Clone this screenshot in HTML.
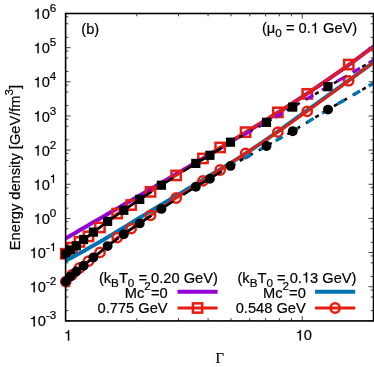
<!DOCTYPE html>
<html><head><meta charset="utf-8"><title>plot</title>
<style>
html,body{margin:0;padding:0;background:#fff;}
body{width:374px;height:367px;overflow:hidden;}
svg{display:block;will-change:transform;}
text{font-family:"Liberation Sans",sans-serif;font-size:14.67px;fill:#000;stroke:#000;stroke-width:0.2px;}
.one{fill:none;stroke:none;}
.ser{font-family:"Liberation Serif",serif;}
</style></head><body>
<svg width="374" height="367" viewBox="0 0 374 367">
<rect x="0" y="0" width="374" height="367" fill="#fff"/>
<defs><clipPath id="cp"><rect x="65.6" y="13.5" width="307.9" height="307.4"/></clipPath><clipPath id="c232"><rect x="232" y="0" width="200" height="400"/></clipPath><clipPath id="c243"><rect x="243" y="0" width="200" height="400"/></clipPath><clipPath id="c235"><rect x="235" y="0" width="200" height="400"/></clipPath></defs>

<path d="M65.6,320.90h5 M373.5,320.90h-5 M65.6,310.62h2.8 M373.5,310.62h-2.8 M65.6,297.03h2.8 M373.5,297.03h-2.8 M65.6,290.05h2.8 M373.5,290.05h-2.8 M65.6,286.74h5 M373.5,286.74h-5 M65.6,276.46h2.8 M373.5,276.46h-2.8 M65.6,262.87h2.8 M373.5,262.87h-2.8 M65.6,255.90h2.8 M373.5,255.90h-2.8 M65.6,252.59h5 M373.5,252.59h-5 M65.6,242.31h2.8 M373.5,242.31h-2.8 M65.6,228.72h2.8 M373.5,228.72h-2.8 M65.6,221.74h2.8 M373.5,221.74h-2.8 M65.6,218.43h5 M373.5,218.43h-5 M65.6,208.15h2.8 M373.5,208.15h-2.8 M65.6,194.56h2.8 M373.5,194.56h-2.8 M65.6,187.59h2.8 M373.5,187.59h-2.8 M65.6,184.28h5 M373.5,184.28h-5 M65.6,174.00h2.8 M373.5,174.00h-2.8 M65.6,160.40h2.8 M373.5,160.40h-2.8 M65.6,153.43h2.8 M373.5,153.43h-2.8 M65.6,150.12h5 M373.5,150.12h-5 M65.6,139.84h2.8 M373.5,139.84h-2.8 M65.6,126.25h2.8 M373.5,126.25h-2.8 M65.6,119.28h2.8 M373.5,119.28h-2.8 M65.6,115.97h5 M373.5,115.97h-5 M65.6,105.68h2.8 M373.5,105.68h-2.8 M65.6,92.09h2.8 M373.5,92.09h-2.8 M65.6,85.12h2.8 M373.5,85.12h-2.8 M65.6,81.81h5 M373.5,81.81h-5 M65.6,71.53h2.8 M373.5,71.53h-2.8 M65.6,57.94h2.8 M373.5,57.94h-2.8 M65.6,50.97h2.8 M373.5,50.97h-2.8 M65.6,47.66h5 M373.5,47.66h-5 M65.6,37.37h2.8 M373.5,37.37h-2.8 M65.6,23.78h2.8 M373.5,23.78h-2.8 M65.6,16.81h2.8 M373.5,16.81h-2.8 M65.6,13.50h5 M373.5,13.50h-5 M65.60,320.9v-5 M65.60,13.5v5 M302.26,320.9v-5 M302.26,13.5v5 M136.84,320.9v-2.8 M136.84,13.5v2.8 M178.51,320.9v-2.8 M178.51,13.5v2.8 M208.08,320.9v-2.8 M208.08,13.5v2.8 M231.02,320.9v-2.8 M231.02,13.5v2.8 M249.76,320.9v-2.8 M249.76,13.5v2.8 M265.60,320.9v-2.8 M265.60,13.5v2.8 M279.32,320.9v-2.8 M279.32,13.5v2.8 M291.43,320.9v-2.8 M291.43,13.5v2.8 M373.50,320.9v-2.8 M373.50,13.5v2.8" stroke="#000" stroke-width="0.75" fill="none"/>
<g clip-path="url(#cp)">
<polyline points="60.0,241.6 64.0,239.3 68.0,237.0 72.0,234.7 76.0,232.4 80.0,230.1 84.0,227.7 88.0,225.4 92.0,223.1 96.0,220.8 100.0,218.5 104.0,216.2 108.0,213.8 112.0,211.5 116.0,209.2 120.0,206.9 124.0,204.5 128.0,202.2 132.0,199.9 136.0,197.6 140.0,195.2 144.0,192.9 148.0,190.6 152.0,188.3 156.0,185.9 160.0,183.6 164.0,181.2 168.0,178.9 172.0,176.6 176.0,174.2 180.0,171.9 184.0,169.5 188.0,167.2 192.0,164.8 196.0,162.4 200.0,160.1 204.0,157.7 208.0,155.3 212.0,152.9 216.0,150.6 220.0,148.2 224.0,145.8 228.0,143.4 232.0,141.0 236.0,138.5 240.0,136.1 244.0,133.7 248.0,131.2 252.0,128.8 256.0,126.3 260.0,123.8 264.0,121.3 268.0,118.9 272.0,116.3 276.0,113.8 280.0,111.3 284.0,108.7 288.0,106.2 292.0,103.6 296.0,101.0 300.0,98.4 304.0,95.7 308.0,93.1 312.0,90.4 316.0,87.7 320.0,85.0 324.0,82.2 328.0,79.5 332.0,76.7 336.0,73.9 340.0,71.1 344.0,68.3 348.0,65.4 352.0,62.5 356.0,59.6 360.0,56.7 364.0,53.7 368.0,50.7 372.0,47.7 376.0,44.7 380.0,41.7" fill="none" stroke="#9400d3" stroke-width="4"/>
<polyline points="65.3,254.2 72.0,247.7 79.5,242.0 88.5,236.3 100.0,227.5 117.2,213.6 131.4,204.9 150.6,191.8 176.2,175.4 203.0,158.4 220.2,147.5 245.6,132.2 278.0,112.3 307.2,93.9 348.7,64.6 373.5,47.1" fill="none" stroke="#e51e10" stroke-width="2.8"/>
</g>
<rect x="61.1" y="249.1" width="9.3" height="9.3" fill="none" stroke="#e51e10" stroke-width="2.5"/>
<rect x="67.3" y="243.0" width="9.3" height="9.3" fill="none" stroke="#e51e10" stroke-width="2.5"/>
<rect x="74.8" y="237.3" width="9.3" height="9.3" fill="none" stroke="#e51e10" stroke-width="2.5"/>
<rect x="83.8" y="231.7" width="9.3" height="9.3" fill="none" stroke="#e51e10" stroke-width="2.5"/>
<rect x="95.3" y="222.8" width="9.3" height="9.3" fill="none" stroke="#e51e10" stroke-width="2.5"/>
<rect x="112.5" y="208.9" width="9.3" height="9.3" fill="none" stroke="#e51e10" stroke-width="2.5"/>
<rect x="126.5" y="200.4" width="9.3" height="9.3" fill="none" stroke="#e51e10" stroke-width="2.5"/>
<rect x="145.9" y="187.2" width="9.3" height="9.3" fill="none" stroke="#e51e10" stroke-width="2.5"/>
<rect x="171.5" y="170.8" width="9.3" height="9.3" fill="none" stroke="#e51e10" stroke-width="2.5"/>
<rect x="198.3" y="153.8" width="9.3" height="9.3" fill="none" stroke="#e51e10" stroke-width="2.5"/>
<rect x="215.5" y="142.8" width="9.3" height="9.3" fill="none" stroke="#e51e10" stroke-width="2.5"/>
<rect x="240.9" y="127.5" width="9.3" height="9.3" fill="none" stroke="#e51e10" stroke-width="2.5"/>
<rect x="273.2" y="107.7" width="9.3" height="9.3" fill="none" stroke="#e51e10" stroke-width="2.5"/>
<rect x="302.6" y="89.2" width="9.3" height="9.3" fill="none" stroke="#e51e10" stroke-width="2.5"/>
<rect x="344.1" y="59.9" width="9.3" height="9.3" fill="none" stroke="#e51e10" stroke-width="2.5"/>
<g clip-path="url(#cp)">
<g clip-path="url(#c232)"><polyline points="65.3,254.5 70.5,250.0 76.3,245.8 83.5,239.6 93.3,232.2 107.6,221.4 123.8,210.3 139.7,199.4 161.3,185.3 195.8,163.4 209.9,155.3 230.4,142.3 266.5,122.3 292.7,107.1 328.0,86.7 373.5,60.3" fill="none" stroke="#000" stroke-width="2.5" stroke-dasharray="4.1,6.80" stroke-dashoffset="-2.95"/></g>
<path d="M65.8,254.1L70.5,250.0" fill="none" stroke="#000" stroke-width="2.5" stroke-dasharray="14,12"/>
<path d="M70.5,250.0L76.3,245.8" fill="none" stroke="#000" stroke-width="2.5" stroke-dasharray="14,12"/>
<path d="M76.3,245.8L83.6,239.5" fill="none" stroke="#000" stroke-width="2.5" stroke-dasharray="14,12"/>
<path d="M83.6,239.5L93.4,232.1" fill="none" stroke="#000" stroke-width="2.5" stroke-dasharray="14,12"/>
<path d="M93.4,232.1L107.6,221.4" fill="none" stroke="#000" stroke-width="2.5" stroke-dasharray="14,12"/>
<path d="M107.6,221.4L123.8,210.3" fill="none" stroke="#000" stroke-width="2.5" stroke-dasharray="14,12"/>
<path d="M123.8,210.3L139.7,199.4" fill="none" stroke="#000" stroke-width="2.5" stroke-dasharray="14,12"/>
<path d="M139.7,199.4L161.4,185.2" fill="none" stroke="#000" stroke-width="2.5" stroke-dasharray="14,12"/>
<path d="M161.4,185.2L195.8,163.4" fill="none" stroke="#000" stroke-width="2.5" stroke-dasharray="14,12"/>
<path d="M195.8,163.4L209.9,155.3" fill="none" stroke="#000" stroke-width="2.5" stroke-dasharray="14,12"/>
<path d="M209.9,155.3L230.5,142.2" fill="none" stroke="#000" stroke-width="2.5" stroke-dasharray="14,12"/>
<g clip-path="url(#c243)"><polyline points="65.3,254.5 70.5,250.0 76.3,245.8 83.5,239.6 93.3,232.2 107.6,221.4 123.8,210.3 139.7,199.4 161.3,185.3 195.8,163.4 209.9,155.3 230.4,142.3 266.5,122.3 292.7,107.1 328.0,86.7 373.5,60.3" fill="none" stroke="#9400d3" stroke-width="3.3" stroke-dasharray="8.0,10.0" stroke-dashoffset="-17.25"/></g>
</g>
<rect x="61.2" y="249.5" width="9.2" height="9.2" fill="#000"/>
<rect x="65.9" y="245.4" width="9.2" height="9.2" fill="#000"/>
<rect x="71.7" y="241.2" width="9.2" height="9.2" fill="#000"/>
<rect x="79.0" y="234.9" width="9.2" height="9.2" fill="#000"/>
<rect x="88.8" y="227.5" width="9.2" height="9.2" fill="#000"/>
<rect x="103.0" y="216.8" width="9.2" height="9.2" fill="#000"/>
<rect x="119.2" y="205.7" width="9.2" height="9.2" fill="#000"/>
<rect x="135.1" y="194.8" width="9.2" height="9.2" fill="#000"/>
<rect x="156.8" y="180.6" width="9.2" height="9.2" fill="#000"/>
<rect x="191.2" y="158.8" width="9.2" height="9.2" fill="#000"/>
<rect x="205.3" y="150.7" width="9.2" height="9.2" fill="#000"/>
<rect x="225.9" y="137.6" width="9.2" height="9.2" fill="#000"/>
<rect x="261.9" y="117.7" width="9.2" height="9.2" fill="#000"/>
<rect x="288.1" y="102.5" width="9.2" height="9.2" fill="#000"/>
<rect x="323.4" y="82.1" width="9.2" height="9.2" fill="#000"/>
<g clip-path="url(#cp)">
<polyline points="60.0,263.8 64.0,261.7 68.0,259.5 72.0,257.4 76.0,255.3 80.0,253.1 84.0,250.9 88.0,248.6 92.0,246.3 96.0,244.0 100.0,241.7 104.0,239.4 108.0,237.0 112.0,234.6 116.0,232.2 120.0,229.8 124.0,227.4 128.0,225.0 132.0,222.5 136.0,220.0 140.0,217.5 144.0,215.1 148.0,212.6 152.0,210.2 156.0,207.8 160.0,205.4 164.0,203.0 168.0,200.7 172.0,198.3 176.0,196.0 180.0,193.6 184.0,191.2 188.0,188.8 192.0,186.4 196.0,184.0 200.0,181.6 204.0,179.2 208.0,176.8 212.0,174.3 216.0,171.9 220.0,169.5 224.0,167.0 228.0,164.6 232.0,162.1 236.0,159.6 240.0,157.1 244.0,154.5 248.0,151.9 252.0,149.3 256.0,146.6 260.0,143.9 264.0,141.2 268.0,138.4 272.0,135.6 276.0,132.8 280.0,129.9 284.0,127.1 288.0,124.2 292.0,121.3 296.0,118.4 300.0,115.6 304.0,112.7 308.0,109.8 312.0,106.9 316.0,104.1 320.0,101.2 324.0,98.3 328.0,95.4 332.0,92.6 336.0,89.7 340.0,86.8 344.0,83.8 348.0,80.9 352.0,78.0 356.0,75.1 360.0,72.2 364.0,69.3 368.0,66.4 372.0,63.5 376.0,60.6 380.0,57.7" fill="none" stroke="#0072b2" stroke-width="4"/>
<polyline points="65.3,282.2 72.2,274.6 79.5,268.0 88.5,261.2 100.0,252.4 117.2,237.6 130.8,228.9 150.6,215.3 176.2,198.0 203.0,180.8 220.2,170.0 245.7,153.2 277.8,132.2 307.2,111.3 348.7,80.8 373.5,62.5" fill="none" stroke="#e51e10" stroke-width="2.8"/>
</g>
<circle cx="65.8" cy="281.6" r="4.65" fill="none" stroke="#e51e10" stroke-width="2.5"/>
<circle cx="72.0" cy="274.8" r="4.65" fill="none" stroke="#e51e10" stroke-width="2.5"/>
<circle cx="79.5" cy="268.0" r="4.65" fill="none" stroke="#e51e10" stroke-width="2.5"/>
<circle cx="88.5" cy="261.2" r="4.65" fill="none" stroke="#e51e10" stroke-width="2.5"/>
<circle cx="100.0" cy="252.4" r="4.65" fill="none" stroke="#e51e10" stroke-width="2.5"/>
<circle cx="117.2" cy="237.6" r="4.65" fill="none" stroke="#e51e10" stroke-width="2.5"/>
<circle cx="131.2" cy="228.6" r="4.65" fill="none" stroke="#e51e10" stroke-width="2.5"/>
<circle cx="150.6" cy="215.3" r="4.65" fill="none" stroke="#e51e10" stroke-width="2.5"/>
<circle cx="176.2" cy="198.0" r="4.65" fill="none" stroke="#e51e10" stroke-width="2.5"/>
<circle cx="203.0" cy="180.8" r="4.65" fill="none" stroke="#e51e10" stroke-width="2.5"/>
<circle cx="220.2" cy="170.0" r="4.65" fill="none" stroke="#e51e10" stroke-width="2.5"/>
<circle cx="245.6" cy="153.3" r="4.65" fill="none" stroke="#e51e10" stroke-width="2.5"/>
<circle cx="277.9" cy="132.1" r="4.65" fill="none" stroke="#e51e10" stroke-width="2.5"/>
<circle cx="307.2" cy="111.3" r="4.65" fill="none" stroke="#e51e10" stroke-width="2.5"/>
<circle cx="348.7" cy="80.8" r="4.65" fill="none" stroke="#e51e10" stroke-width="2.5"/>
<g clip-path="url(#cp)">
<g clip-path="url(#c232)"><polyline points="65.3,282.2 70.5,276.4 76.3,271.5 83.6,265.7 93.7,257.2 107.8,245.9 123.8,234.3 139.7,223.4 161.5,208.8 195.8,186.7 209.9,178.7 230.4,166.0 266.5,146.0 292.7,131.2 328.0,109.6 373.5,83.2" fill="none" stroke="#000" stroke-width="2.5" stroke-dasharray="4.1,6.80" stroke-dashoffset="-5.90"/></g>
<path d="M65.8,281.6L70.5,276.4" fill="none" stroke="#000" stroke-width="2.5" stroke-dasharray="14,12"/>
<path d="M70.5,276.4L76.3,271.5" fill="none" stroke="#000" stroke-width="2.5" stroke-dasharray="14,12"/>
<path d="M76.3,271.5L83.6,265.7" fill="none" stroke="#000" stroke-width="2.5" stroke-dasharray="14,12"/>
<path d="M83.6,265.7L93.4,257.5" fill="none" stroke="#000" stroke-width="2.5" stroke-dasharray="14,12"/>
<path d="M93.4,257.5L107.6,246.1" fill="none" stroke="#000" stroke-width="2.5" stroke-dasharray="14,12"/>
<path d="M107.6,246.1L123.8,234.3" fill="none" stroke="#000" stroke-width="2.5" stroke-dasharray="14,12"/>
<path d="M123.8,234.3L139.7,223.4" fill="none" stroke="#000" stroke-width="2.5" stroke-dasharray="14,12"/>
<path d="M139.7,223.4L161.4,208.9" fill="none" stroke="#000" stroke-width="2.5" stroke-dasharray="14,12"/>
<path d="M161.4,208.9L195.8,186.7" fill="none" stroke="#000" stroke-width="2.5" stroke-dasharray="14,12"/>
<path d="M195.8,186.7L209.9,178.7" fill="none" stroke="#000" stroke-width="2.5" stroke-dasharray="14,12"/>
<path d="M209.9,178.7L230.5,165.9" fill="none" stroke="#000" stroke-width="2.5" stroke-dasharray="14,12"/>
<g clip-path="url(#c235)"><polyline points="65.3,282.2 70.5,276.4 76.3,271.5 83.6,265.7 93.7,257.2 107.8,245.9 123.8,234.3 139.7,223.4 161.5,208.8 195.8,186.7 209.9,178.7 230.4,166.0 266.5,146.0 292.7,131.2 328.0,109.6 373.5,83.2" fill="none" stroke="#0072b2" stroke-width="3.3" stroke-dasharray="8.0,10.0" stroke-dashoffset="-2.19"/></g>
</g>
<circle cx="65.8" cy="281.6" r="4.95" fill="#000"/>
<circle cx="70.5" cy="276.4" r="4.95" fill="#000"/>
<circle cx="76.3" cy="271.5" r="4.95" fill="#000"/>
<circle cx="83.6" cy="265.7" r="4.95" fill="#000"/>
<circle cx="93.4" cy="257.5" r="4.95" fill="#000"/>
<circle cx="107.6" cy="246.1" r="4.95" fill="#000"/>
<circle cx="123.8" cy="234.3" r="4.95" fill="#000"/>
<circle cx="139.7" cy="223.4" r="4.95" fill="#000"/>
<circle cx="161.4" cy="208.9" r="4.95" fill="#000"/>
<circle cx="195.8" cy="186.7" r="4.95" fill="#000"/>
<circle cx="209.9" cy="178.7" r="4.95" fill="#000"/>
<circle cx="230.5" cy="165.9" r="4.95" fill="#000"/>
<circle cx="266.5" cy="146.0" r="4.95" fill="#000"/>
<circle cx="292.7" cy="131.2" r="4.95" fill="#000"/>
<circle cx="328.0" cy="109.6" r="4.95" fill="#000"/>
<rect x="65.6" y="13.5" width="307.9" height="307.4" fill="none" stroke="#000" stroke-width="1.6"/>
<text x="56.3" y="326.4" text-anchor="end"><tspan class="one">1</tspan>0<tspan dy="-7.0" font-size="11.7px">-3</tspan></text>
<text x="56.3" y="292.2" text-anchor="end"><tspan class="one">1</tspan>0<tspan dy="-7.0" font-size="11.7px">-2</tspan></text>
<text x="56.3" y="258.1" text-anchor="end"><tspan class="one">1</tspan>0<tspan dy="-7.0" font-size="11.7px">-<tspan class="one">1</tspan></tspan></text>
<text x="56.3" y="223.9" text-anchor="end"><tspan class="one">1</tspan>0<tspan dy="-7.0" font-size="11.7px">0</tspan></text>
<text x="56.3" y="189.8" text-anchor="end"><tspan class="one">1</tspan>0<tspan dy="-7.0" font-size="11.7px"><tspan class="one">1</tspan></tspan></text>
<text x="56.3" y="155.6" text-anchor="end"><tspan class="one">1</tspan>0<tspan dy="-7.0" font-size="11.7px">2</tspan></text>
<text x="56.3" y="121.5" text-anchor="end"><tspan class="one">1</tspan>0<tspan dy="-7.0" font-size="11.7px">3</tspan></text>
<text x="56.3" y="87.3" text-anchor="end"><tspan class="one">1</tspan>0<tspan dy="-7.0" font-size="11.7px">4</tspan></text>
<text x="56.3" y="53.2" text-anchor="end"><tspan class="one">1</tspan>0<tspan dy="-7.0" font-size="11.7px">5</tspan></text>
<text x="56.3" y="19.0" text-anchor="end"><tspan class="one">1</tspan>0<tspan dy="-7.0" font-size="11.7px">6</tspan></text>
<text x="68" y="340.6" text-anchor="middle"><tspan class="one">1</tspan></text>
<text x="303.8" y="340.4" text-anchor="middle"><tspan class="one">1</tspan>0</text>
<text class="ser" x="219.7" y="363" text-anchor="middle" font-size="16.4px">Γ</text>
<text transform="translate(20.3,167.5) rotate(-90)" text-anchor="middle">Energy density [GeV/fm<tspan dy="-7" font-size="11.7px">3</tspan><tspan dy="7">]</tspan></text>
<text x="81.3" y="33.8">(b)</text>
<text x="357.2" y="33.2" text-anchor="end">(μ<tspan dy="4.0" font-size="11.7px">0</tspan><tspan dy="-4.0"> = 0.<tspan class="one">1</tspan> GeV)</tspan></text>
<text x="217.9" y="282.6" text-anchor="end">(k<tspan dy="4.0" font-size="11.7px">B</tspan><tspan dy="-4.0">T</tspan><tspan dy="4.0" font-size="11.7px">0</tspan><tspan dy="-4.0"> = 0.20 GeV)</tspan></text>
<text x="167.6" y="297.7" text-anchor="end">Mc<tspan dy="-7.3" font-size="11.7px">2</tspan><tspan dy="7.3">=0</tspan></text>
<text x="167.6" y="312.9" text-anchor="end">0.775 GeV</text>
<path d="M177.5,291.7H217.6" stroke="#9400d3" stroke-width="4"/>
<path d="M177.5,308.0H217.6" stroke="#e51e10" stroke-width="2.8"/>
<rect x="192.9" y="303.35" width="9.3" height="9.3" fill="none" stroke="#e51e10" stroke-width="2.5"/>
<text x="356.5" y="282.6" text-anchor="end">(k<tspan dy="4.0" font-size="11.7px">B</tspan><tspan dy="-4.0">T</tspan><tspan dy="4.0" font-size="11.7px">0</tspan><tspan dy="-4.0"> = 0.<tspan class="one">1</tspan>3 GeV)</tspan></text>
<text x="305.8" y="297.7" text-anchor="end">Mc<tspan dy="-7.3" font-size="11.7px">2</tspan><tspan dy="7.3">=0</tspan></text>
<text x="305.8" y="312.9" text-anchor="end">0.548 GeV</text>
<path d="M315.1,291.7H355.2" stroke="#0072b2" stroke-width="4"/>
<path d="M315.1,308.0H355.2" stroke="#e51e10" stroke-width="2.8"/>
<circle cx="335.1" cy="308.0" r="4.65" fill="none" stroke="#e51e10" stroke-width="2.5"/>
<path transform="translate(29.58,326.40) scale(0.01467,-0.01467)" d="M359 0H271V505H102V568C196 570 264 589 295 709H359Z" fill="#000" stroke="#000" stroke-width="13.6"/>
<path transform="translate(29.58,292.20) scale(0.01467,-0.01467)" d="M359 0H271V505H102V568C196 570 264 589 295 709H359Z" fill="#000" stroke="#000" stroke-width="13.6"/>
<path transform="translate(29.57,258.10) scale(0.01467,-0.01467)" d="M359 0H271V505H102V568C196 570 264 589 295 709H359Z" fill="#000" stroke="#000" stroke-width="13.6"/>
<path transform="translate(49.78,251.10) scale(0.01170,-0.01170)" d="M359 0H271V505H102V568C196 570 264 589 295 709H359Z" fill="#000" stroke="#000" stroke-width="17.1"/>
<path transform="translate(33.47,223.90) scale(0.01467,-0.01467)" d="M359 0H271V505H102V568C196 570 264 589 295 709H359Z" fill="#000" stroke="#000" stroke-width="13.6"/>
<path transform="translate(33.47,189.80) scale(0.01467,-0.01467)" d="M359 0H271V505H102V568C196 570 264 589 295 709H359Z" fill="#000" stroke="#000" stroke-width="13.6"/>
<path transform="translate(49.78,182.80) scale(0.01170,-0.01170)" d="M359 0H271V505H102V568C196 570 264 589 295 709H359Z" fill="#000" stroke="#000" stroke-width="17.1"/>
<path transform="translate(33.47,155.60) scale(0.01467,-0.01467)" d="M359 0H271V505H102V568C196 570 264 589 295 709H359Z" fill="#000" stroke="#000" stroke-width="13.6"/>
<path transform="translate(33.47,121.50) scale(0.01467,-0.01467)" d="M359 0H271V505H102V568C196 570 264 589 295 709H359Z" fill="#000" stroke="#000" stroke-width="13.6"/>
<path transform="translate(33.47,87.30) scale(0.01467,-0.01467)" d="M359 0H271V505H102V568C196 570 264 589 295 709H359Z" fill="#000" stroke="#000" stroke-width="13.6"/>
<path transform="translate(33.47,53.20) scale(0.01467,-0.01467)" d="M359 0H271V505H102V568C196 570 264 589 295 709H359Z" fill="#000" stroke="#000" stroke-width="13.6"/>
<path transform="translate(33.47,19.00) scale(0.01467,-0.01467)" d="M359 0H271V505H102V568C196 570 264 589 295 709H359Z" fill="#000" stroke="#000" stroke-width="13.6"/>
<path transform="translate(63.92,340.60) scale(0.01467,-0.01467)" d="M359 0H271V505H102V568C196 570 264 589 295 709H359Z" fill="#000" stroke="#000" stroke-width="13.6"/>
<path transform="translate(295.64,340.40) scale(0.01467,-0.01467)" d="M359 0H271V505H102V568C196 570 264 589 295 709H359Z" fill="#000" stroke="#000" stroke-width="13.6"/>
<path transform="translate(310.76,33.20) scale(0.01467,-0.01467)" d="M359 0H271V505H102V568C196 570 264 589 295 709H359Z" fill="#000" stroke="#000" stroke-width="13.6"/>
<path transform="translate(301.91,282.60) scale(0.01467,-0.01467)" d="M359 0H271V505H102V568C196 570 264 589 295 709H359Z" fill="#000" stroke="#000" stroke-width="13.6"/>
</svg></body></html>
